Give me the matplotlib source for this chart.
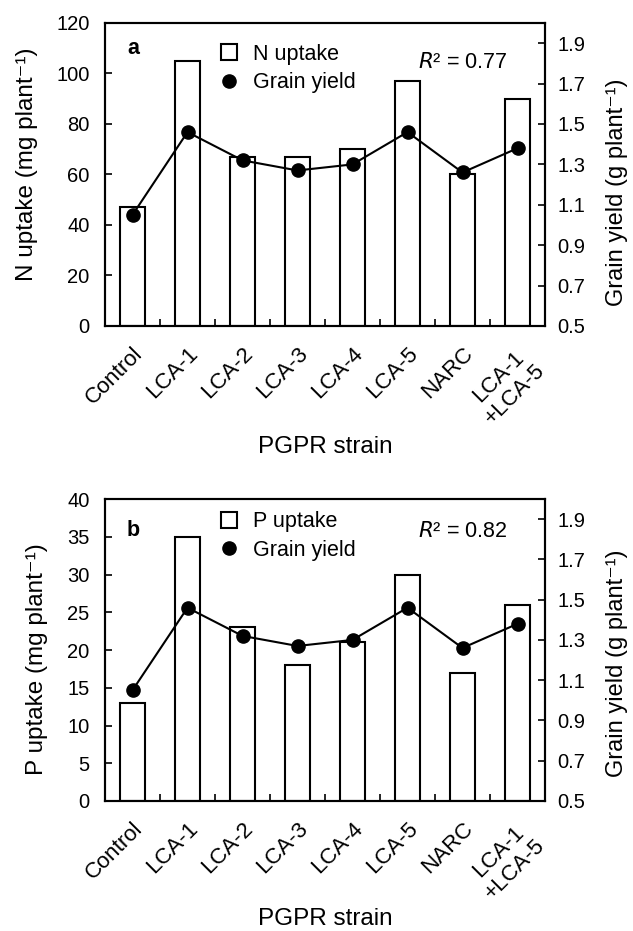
import numpy as np
import matplotlib; matplotlib.use("Agg")
import matplotlib.pyplot as plt
from matplotlib.lines import Line2D
from matplotlib.transforms import ScaledTranslation

plt.rcParams["font.family"] = ["Liberation Sans", "DejaVu Sans"]
plt.rcParams["font.size"] = 14.5

strains = ["Control", "LCA-1", "LCA-2", "LCA-3", "LCA-4", "LCA-5", "NARC", "LCA-1\n+LCA-5"]
n_uptake = [47, 105, 67, 67, 70, 97, 60, 90]
p_uptake = [13, 35, 23, 18, 21, 30, 17, 26]
grain_yield = [1.05, 1.46, 1.32, 1.27, 1.30, 1.46, 1.26, 1.38]
yield_ticks = [0.5, 0.7, 0.9, 1.1, 1.3, 1.5, 1.7, 1.9]

fig = plt.figure(figsize=(6.33, 9.31), dpi=100)
W, H = 633.0, 931.0

def panel(bottom_px, top_px, vals, ymax, ystep, ylab, leg, letter, r2, pos):
    ax = fig.add_axes([105/W, 1-bottom_px/H, 440/W, (bottom_px-top_px)/H])
    x = np.arange(len(strains))
    ax.bar(x, vals, width=0.45, facecolor="white", edgecolor="black", linewidth=1.5, zorder=2)
    ax.set_xlim(-0.5, len(strains)-0.5)
    ax.set_ylim(0, ymax)
    ax.set_yticks(np.arange(0, ymax+0.1, ystep))
    ax.set_xticks(x)
    ax.set_xticklabels(strains, rotation=45, ha="right", rotation_mode="anchor",
                       multialignment="center", fontsize=16)
    for t in ax.get_xticklabels():
        dx = -2 if "\n" in t.get_text() else 4   # two-line label sits a bit further left
        t.set_transform(t.get_transform() + ScaledTranslation(dx/100, 0, fig.dpi_scale_trans))
    ax.set_xticks(np.arange(0.5, len(strains)-1), minor=True)
    ax.tick_params(axis="x", which="major", length=0, pad=12)
    ax.tick_params(axis="x", which="minor", direction="in", length=5, width=1.2)
    ax.tick_params(axis="y", direction="in", length=5, width=1.2, pad=11)
    ax.set_ylabel(ylab, fontsize=17.5, va="center", ha="center")
    ax.yaxis.set_label_coords(*pos["yl"])
    ax.set_xlabel("PGPR strain", fontsize=17.5)
    ax.xaxis.set_label_coords(0.5, pos["xl"])
    for s in ax.spines.values():
        s.set_linewidth(1.5)
    ax2 = ax.twinx()
    ax2.plot(x, grain_yield, color="black", marker="o", markersize=9.5, linewidth=1.5, zorder=3)
    ax2.set_ylim(0.5, 2.0)
    ax2.set_yticks(yield_ticks)
    ax2.set_yticklabels(["%.1f" % v for v in yield_ticks])
    ax2.tick_params(axis="y", direction="in", length=5, width=1.2, pad=9)
    ax2.set_ylabel("Grain yield (g plant⁻¹)", fontsize=17, va="center", ha="center")
    ax2.yaxis.set_label_coords(*pos["yr"])
    for s in ax2.spines.values():
        s.set_linewidth(1.5)
    handles = [Line2D([], [], marker="s", markersize=12, markerfacecolor="white",
                      markeredgecolor="black", markeredgewidth=1.5, linestyle="none"),
               Line2D([], [], marker="o", markersize=9.5, color="black", linestyle="none")]
    ax2.legend(handles, [leg, "Grain yield"], loc="upper left", bbox_to_anchor=(0.257, pos["leg"]),
               frameon=False, handlelength=1.0, handletextpad=0.61, labelspacing=0.34,
               borderpad=0, borderaxespad=0, fontsize=15.5)
    ax.text(0.064, pos["let"], letter, transform=ax.transAxes, fontweight="bold",
            fontsize=15.5, va="center", ha="center")
    ax.text(0.711, pos["r2"], "$R$² = %s" % r2, transform=ax.transAxes, va="center",
            fontsize=15.5)
    return ax

panel(326, 23, n_uptake, 120, 20, "N uptake (mg plant⁻¹)", "N uptake", "a", "0.77",
      {"yl": (-0.177, 0.535), "yr": (1.163, 0.442), "xl": -0.363,
       "leg": 0.931, "let": 0.917, "r2": 0.871})
panel(801, 499, p_uptake, 40, 5, "P uptake (mg plant⁻¹)", "P uptake", "b", "0.82",
      {"yl": (-0.155, 0.469), "yr": (1.163, 0.457), "xl": -0.354,
       "leg": 0.959, "let": 0.897, "r2": 0.891})

fig.savefig("out.png", dpi=100, facecolor="white")
